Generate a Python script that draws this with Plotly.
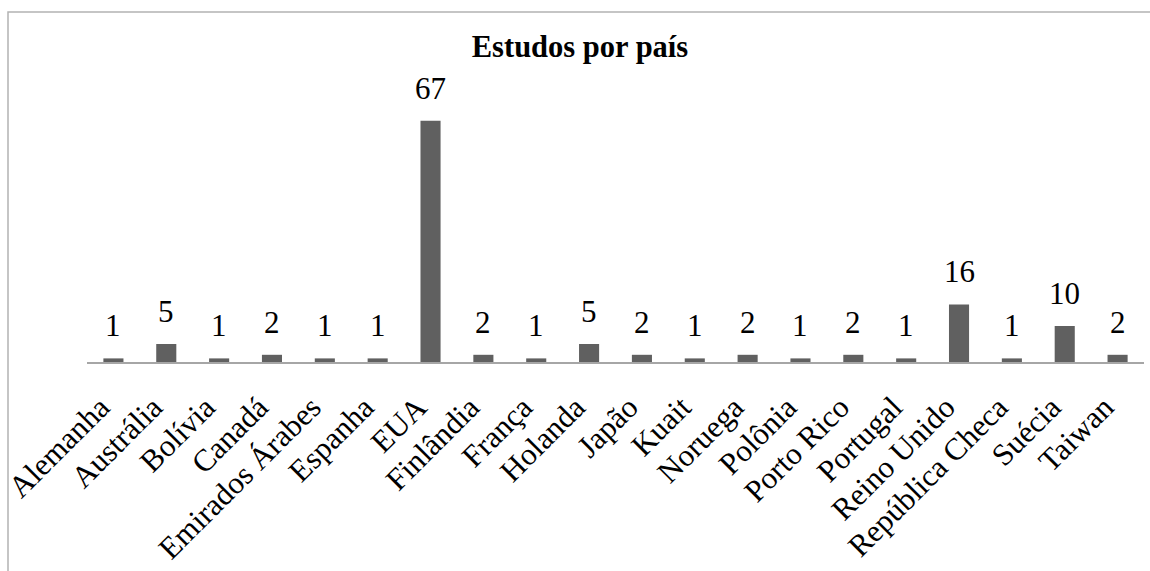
import plotly.graph_objects as go

countries = ["Alemanha", "Austrália", "Bolívia", "Canadá", "Emirados Árabes", "Espanha",
             "EUA", "Finlândia", "França", "Holanda", "Japão", "Kuait", "Noruega",
             "Polônia", "Porto Rico", "Portugal", "Reino Unido", "República Checa",
             "Suécia", "Taiwan"]
studies = [1, 5, 1, 2, 1, 1, 67, 2, 1, 5, 2, 1, 2, 1, 2, 1, 16, 1, 10, 2]
title_text = "Estudos por país"

FONT = "Liberation Serif"

fig = go.Figure()
fig.add_trace(go.Bar(
    x=countries, y=studies,
    marker=dict(color="#606060", line=dict(width=0)),
    hoverinfo="x+y",
))

for c, v in zip(countries, studies):
    fig.add_annotation(x=c, y=v, text=str(v), showarrow=False,
                       yanchor="bottom", yshift=13,
                       font=dict(family=FONT, size=31, color="#000000"))

fig.update_layout(
    width=1150, height=571,
    margin=dict(l=87, r=6, t=74, b=209, autoexpand=False),
    paper_bgcolor="white", plot_bgcolor="white",
    bargap=0.62,
    showlegend=False,
    title=dict(text="<b>" + title_text + "</b>", x=580 / 1150, xanchor="center",
               xref="container", yref="container", y=1 - 46 / 571, yanchor="middle",
               font=dict(family=FONT, size=30.5, color="#000000"), automargin=False),
    xaxis=dict(showline=True, linecolor="#a6a6a6", linewidth=1.5,
               showgrid=False, ticks="", tickangle=-45, automargin=False,
               tickfont=dict(family=FONT, size=31, color="#000000"),
               ticklabelstandoff=13, ticklabelshift=-13, fixedrange=True),
    yaxis=dict(visible=False, range=[0, 80], showgrid=False, fixedrange=True,
               automargin=False),
    shapes=[dict(type="rect", xref="paper", yref="paper",
                 x0=-79 / 1057, x1=1.1, y0=-1.0, y1=1 + 62 / 288,
                 line=dict(color="#b3b3b3", width=1.5), fillcolor="rgba(0,0,0,0)",
                 layer="below")],
)

fig.write_html("out.html")
